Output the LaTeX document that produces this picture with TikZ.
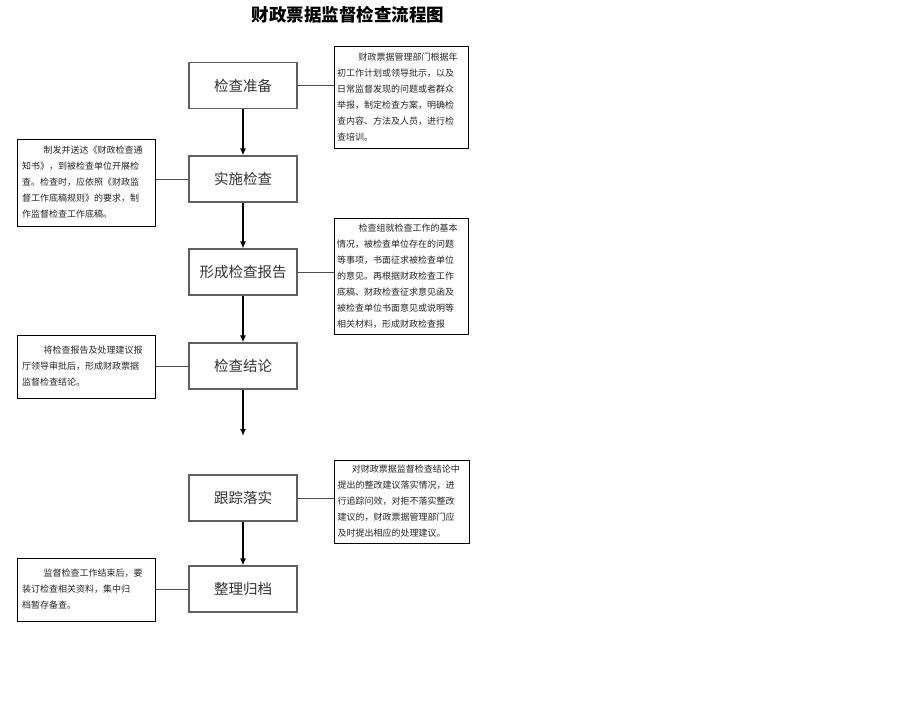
\documentclass[tikz,border=0pt]{standalone}
\usepackage{fontspec}
\setmainfont{Noto Sans CJK SC}
\usetikzlibrary{shadows,arrows.meta}
\tikzset{
  stage/.style={draw=gray!75!black, line width=1.1pt, minimum width=108pt, minimum height=46pt,
    text=black!80, font=\fontsize{14.5}{16}\selectfont, inner sep=0pt},
  note/.style={draw=black, line width=1pt, fill=white, text width=128pt, align=left,
    inner xsep=3pt, inner ysep=0pt, font=\fontsize{9}{16}\selectfont, text=black!85,
    general shadow={fill=black, shadow xshift=1.2pt, shadow yshift=-1.2pt}},
  flow/.style={-{Latex[length=7pt,width=6pt]}, line width=1.4pt},
  link/.style={draw=gray!60!black, line width=0.7pt}
}
\begin{document}
\begin{tikzpicture}[x=1pt,y=-1pt]
\useasboundingbox[fill=white] (0,0) rectangle (916,726);
% Title
\node (title) at (348,15) {\fontsize{17.5}{19}\selectfont\bfseries 财政票据监督检查流程图};

% Main stages
\node[stage] (prep) at (243,85.5) {检查准备};
\node[stage] (impl) at (243,179) {实施检查};
\node[stage] (report) at (243,272) {形成检查报告};
\node[stage] (concl) at (243,366) {检查结论};
\node[stage] (track) at (243,498) {跟踪落实};
\node[stage] (file) at (243,589) {整理归档};
\coordinate (gap) at (243,436);

% Notes
\node[note, minimum width=134pt, minimum height=102pt] (n1) at (401,97)
  {\hspace*{2.4em}财政票据管理部门根据年\\初工作计划或领导批示，以及\\日常监督发现的问题或者群众\\举报，制定检查方案，明确检\\查内容、方法及人员，进行检\\查培训。};
\node[note, minimum width=138pt, minimum height=87pt] (n2) at (86,182.5)
  {\hspace*{2.4em}制发并送达《财政检查通\\知书》，到被检查单位开展检\\查。检查时，应依照《财政监\\督工作底稿规则》的要求，制\\作监督检查工作底稿。};
\node[note, minimum width=134pt, minimum height=116pt] (n3) at (401,276)
  {\hspace*{2.4em}检查组就检查工作的基本\\情况，被检查单位存在的问题\\等事项，书面征求被检查单位\\的意见。再根据财政检查工作\\底稿、财政检查征求意见函及\\被检查单位书面意见或说明等\\相关材料，形成财政检查报};
\node[note, minimum width=138pt, minimum height=63pt] (n4) at (86,366.5)
  {\hspace*{2.4em}将检查报告及处理建议报\\厅领导审批后，形成财政票据\\监督检查结论。};
\node[note, minimum width=135pt, minimum height=83pt] (n5) at (401.5,501.5)
  {\hspace*{1.6em}对财政票据监督检查结论中\\提出的整改建议落实情况，进\\行追踪问效，对拒不落实整改\\建议的，财政票据管理部门应\\及时提出相应的处理建议。};
\node[note, minimum width=138pt, minimum height=63pt] (n6) at (86,589.5)
  {\hspace*{2.4em}监督检查工作结束后，要\\装订检查相关资料，集中归\\档暂存备查。};

% Flow arrows
\draw[flow] (prep) -- (impl);
\draw[flow] (impl) -- (report);
\draw[flow] (report) -- (concl);
\draw[flow] (concl) -- (gap);
\draw[flow] (track) -- (file);

% Links to notes
\draw[link] (prep.east) -- (prep.east -| n1.west);
\draw[link] (impl.west) -- (impl.west -| n2.east);
\draw[link] (report.east) -- (report.east -| n3.west);
\draw[link] (concl.west) -- (concl.west -| n4.east);
\draw[link] (track.east) -- (track.east -| n5.west);
\draw[link] (file.west) -- (file.west -| n6.east);
\end{tikzpicture}
\end{document}
